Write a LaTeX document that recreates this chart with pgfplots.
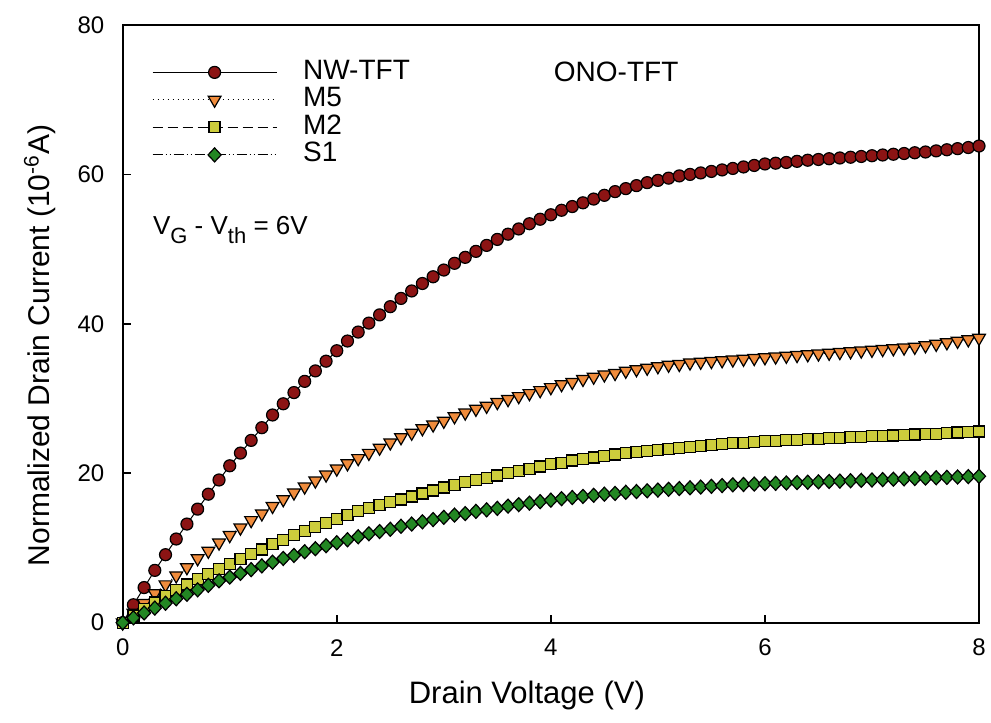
\documentclass[border=0pt]{standalone}
\usepackage{fontspec}
\setmainfont{Liberation Sans}
\usepackage{pgfplots}
\usepackage{pgfplotstable}
\pgfplotsset{compat=1.18}
\definecolor{nwred}{RGB}{140,20,20}
\definecolor{m5orange}{RGB}{240,140,60}
\definecolor{m2yellow}{RGB}{205,205,60}
\definecolor{s1green}{RGB}{35,135,35}
\pgfplotstableread{
x nw m5 m2 s1
0.0 0.0 0.0 0.0 0.0
0.1 2.4 1.3 0.9 0.65
0.2 4.7 2.6 1.8 1.3
0.3 7.0 3.9 2.7 1.95
0.4 9.1 5.1 3.6 2.6
0.5 11.2 6.3 4.4 3.2
0.6 13.2 7.4 5.1 3.8
0.7 15.2 8.6 5.8 4.4
0.8 17.2 9.6 6.5 5.0
0.9 19.1 10.7 7.2 5.6
1.0 21.0 11.7 7.9 6.1
1.1 22.7 12.7 8.5 6.6
1.2 24.4 13.7 9.2 7.1
1.3 26.1 14.6 9.8 7.6
1.4 27.8 15.6 10.5 8.1
1.5 29.3 16.5 11.1 8.6
1.6 30.8 17.4 11.7 9.0
1.7 32.3 18.2 12.3 9.5
1.8 33.7 19.0 12.8 9.9
1.9 35.0 19.8 13.3 10.3
2.0 36.4 20.6 13.9 10.7
2.1 37.7 21.3 14.4 11.1
2.2 38.9 22.0 14.9 11.5
2.3 40.1 22.7 15.3 11.9
2.4 41.2 23.4 15.7 12.2
2.5 42.3 24.1 16.1 12.5
2.6 43.4 24.8 16.5 12.9
2.7 44.4 25.4 16.9 13.2
2.8 45.4 26.0 17.3 13.5
2.9 46.3 26.5 17.7 13.8
3.0 47.2 27.0 18.1 14.1
3.1 48.1 27.6 18.4 14.4
3.2 48.9 28.1 18.8 14.6
3.3 49.7 28.6 19.1 14.9
3.4 50.5 29.0 19.4 15.1
3.5 51.3 29.5 19.7 15.3
3.6 52.0 29.9 20.0 15.6
3.7 52.7 30.3 20.3 15.8
3.8 53.4 30.7 20.6 16.0
3.9 54.0 31.1 20.9 16.2
4.0 54.6 31.5 21.2 16.4
4.1 55.2 31.9 21.4 16.6
4.2 55.7 32.2 21.7 16.75
4.3 56.2 32.6 21.9 16.9
4.4 56.7 32.9 22.1 17.05
4.5 57.2 33.2 22.3 17.2
4.6 57.7 33.4 22.5 17.3
4.7 58.1 33.7 22.7 17.45
4.8 58.5 33.9 22.8 17.55
4.9 58.9 34.1 23.0 17.65
5.0 59.2 34.3 23.1 17.75
5.1 59.5 34.5 23.2 17.85
5.2 59.8 34.6 23.4 17.95
5.3 60.0 34.8 23.5 18.05
5.4 60.2 34.9 23.6 18.15
5.5 60.4 35.0 23.8 18.25
5.6 60.6 35.1 23.9 18.35
5.7 60.8 35.2 24.0 18.45
5.8 61.0 35.3 24.1 18.5
5.9 61.2 35.4 24.2 18.55
6.0 61.4 35.5 24.3 18.6
6.1 61.5 35.6 24.35 18.65
6.2 61.6 35.7 24.4 18.7
6.3 61.75 35.8 24.5 18.75
6.4 61.9 35.9 24.55 18.8
6.5 62.0 36.0 24.6 18.85
6.6 62.1 36.1 24.7 18.9
6.7 62.2 36.2 24.75 18.95
6.8 62.3 36.3 24.8 19.0
6.9 62.4 36.4 24.9 19.05
7.0 62.5 36.5 24.95 19.1
7.1 62.6 36.6 25.0 19.15
7.2 62.7 36.7 25.05 19.2
7.3 62.8 36.8 25.1 19.25
7.4 62.9 36.9 25.2 19.3
7.5 63.0 37.1 25.25 19.35
7.6 63.15 37.3 25.3 19.4
7.7 63.3 37.5 25.4 19.45
7.8 63.45 37.7 25.45 19.5
7.9 63.6 37.9 25.5 19.55
8.0 63.8 38.1 25.6 19.6
}\datatable
\begin{document}
\begin{tikzpicture}
\begin{axis}[
  scale only axis,
  width=428.15pt, height=298.85pt,
  xmin=0, xmax=8, ymin=0, ymax=80,
  xtick={0,2,4,6,8}, ytick={0,20,40,60,80},
  xtick pos=bottom, ytick pos=left,
  tick align=inside,
  major tick length=4pt,
  axis line style={line width=0.9pt},
  every tick/.style={black, line width=0.8pt},
  clip=false,
  /pgf/number format/assume math mode=true,
  ticklabel style={font=\fontsize{12}{12}\selectfont},
  xticklabel style={anchor=center, yshift=-12.5pt},
  yticklabel style={anchor=east, inner sep=0pt, xshift=-9pt},
  xlabel={Drain Voltage (V)},
  ylabel={Normalized Drain Current (10\textsuperscript{-6}A)},
  every axis x label/.style={at={(axis description cs:0.472,0)}, anchor=center, yshift=-36.5pt, font=\fontsize{15.5}{15.5}\selectfont},
  every axis y label/.style={at={(axis description cs:0,0.464)}, xshift=-41.5pt, rotate=90, anchor=center, font=\fontsize{15}{15}\selectfont},
  legend image code/.code={\draw[mark repeat=2,mark phase=2,#1] plot coordinates {(0pt,0pt) (31pt,0pt) (62pt,0pt)};},
  legend style={at={(axis description cs:0,1)}, anchor=north west, xshift=11.5pt, yshift=-15.5pt,
    draw=none, fill=none, font=\fontsize{14}{14}\selectfont, row sep=1.75pt, column sep=13pt,
    nodes={inner sep=0pt, text height=9.5pt, text depth=2.5pt}},
  legend cell align=left,
]
\addplot[black, line width=0.5pt, mark=*, mark size=3.0pt,
  mark options={fill=nwred, draw=black, line width=0.6pt, solid}] table[x=x, y=nw] {\datatable};
\addlegendentry{NW-TFT}
\addplot[black, line width=0.5pt, dotted, mark=triangle*, mark size=3.7pt,
  mark options={fill=m5orange, draw=black, line width=0.6pt, solid, rotate=180}] table[x=x, y=m5] {\datatable};
\addlegendentry{M5}
\addplot[black, line width=0.5pt, dash pattern=on 5pt off 2.5pt, mark=square*, mark size=2.75pt,
  mark options={fill=m2yellow, draw=black, line width=0.6pt, solid}] table[x=x, y=m2] {\datatable};
\addlegendentry{M2}
\addplot[black, line width=0.5pt, dash pattern=on 5pt off 1.5pt on 0.5pt off 1.5pt on 0.5pt off 1.5pt, mark=diamond*, mark size=3.5pt,
  mark options={fill=s1green, draw=black, line width=0.6pt, solid, xscale=1.25}] table[x=x, y=s1] {\datatable};
\addlegendentry{S1}
\node[anchor=center, font=\fontsize{14}{14}\selectfont] at (axis cs:4.61,73.7) {ONO-TFT};
\node[anchor=west, font=\fontsize{13}{13}\selectfont, inner sep=0pt] at (axis cs:0.28,52.5)
  {V\raisebox{-4.5pt}{\fontsize{11}{11}\selectfont G} - V\raisebox{-4.5pt}{\fontsize{11}{11}\selectfont th} = 6V};
\end{axis}
\pgfresetboundingbox
\path ([shift={(-61.35pt,-50.15pt)}]current axis.south west) rectangle ([shift={(6pt,12.5pt)}]current axis.north east);
\end{tikzpicture}
\end{document}
